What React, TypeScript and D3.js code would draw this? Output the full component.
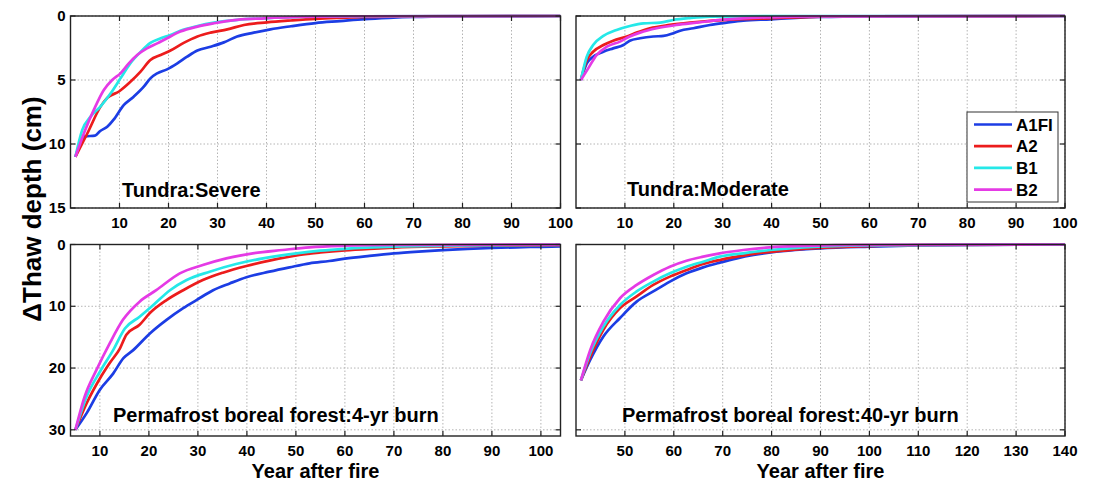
import React from 'react'
import * as d3 from 'd3'

type Pt = [number, number]

// series names and colours
const scenarios = ['A1FI', 'A2', 'B1', 'B2']
const colors = ['#1c3de4', '#ec1c1c', '#25e8e8', '#e53ae5']

// Tundra: Severe  [year after fire, delta thaw depth cm]
const severeA1FI: Pt[] = [[1, 11], [3, 9.4], [5, 9.35], [6, 9.0], [7.5, 8.65], [8.8, 8.1], [10.9, 6.95], [12.9, 6.3], [15, 5.5], [16.3, 4.87], [17.7, 4.48], [19.7, 4.17], [21.8, 3.7], [23.8, 3.18], [25.9, 2.7], [28.6, 2.4], [31.3, 2.06], [34, 1.6], [37.4, 1.3], [40.8, 1.04], [45, 0.8], [50, 0.55], [55, 0.4], [60, 0.25], [65, 0.15], [70, 0.08], [80, 0.03], [100, 0]]
const severeA2: Pt[] = [[1, 11], [3.4, 9.2], [6.1, 7.1], [7.5, 6.4], [9.9, 5.9], [11.9, 5.26], [14.3, 4.35], [16.3, 3.44], [18.4, 3.05], [20.4, 2.7], [23.1, 2.1], [25.9, 1.6], [28.6, 1.3], [32, 1.04], [35.4, 0.7], [40.1, 0.5], [45, 0.35], [50, 0.22], [55, 0.14], [60, 0.08], [70, 0.03], [100, 0]]
const severeB1: Pt[] = [[1, 11], [2.4, 8.9], [4.1, 7.86], [6.1, 7.08], [8.2, 6.04], [10.2, 4.87], [12.2, 3.7], [14.3, 2.8], [16.3, 2.1], [18.4, 1.74], [20.4, 1.48], [22.4, 1.15], [25.9, 0.78], [29.3, 0.52], [34, 0.3], [39.5, 0.18], [50, 0.06], [60, 0.02], [100, 0]]
const severeB2: Pt[] = [[1, 11], [3, 8.9], [4.8, 7.3], [6.8, 5.78], [8.5, 5.0], [10.2, 4.48], [11.9, 3.7], [13.6, 3.05], [15.6, 2.53], [17.7, 2.14], [19.7, 1.74], [22.4, 1.22], [25.9, 0.83], [29.3, 0.57], [34, 0.3], [39.5, 0.18], [50, 0.06], [60, 0.02], [100, 0]]

// Tundra: Moderate
const moderateA1FI: Pt[] = [[1, 5], [2.2, 3.7], [3.5, 3.18], [5.6, 2.79], [7.6, 2.53], [9.7, 2.27], [11, 1.93], [13.1, 1.74], [15.8, 1.6], [17.9, 1.56], [19.9, 1.35], [21.3, 1.15], [24, 0.96], [27.4, 0.7], [30.8, 0.52], [34.2, 0.36], [39.7, 0.26], [45, 0.15], [50, 0.08], [60, 0.03], [100, 0]]
const moderateA2: Pt[] = [[1, 5], [2.2, 3.44], [3.5, 2.79], [5.6, 2.27], [7.6, 1.93], [10.4, 1.6], [12.4, 1.3], [15.1, 0.96], [19.2, 0.7], [23.3, 0.52], [28.1, 0.36], [32.9, 0.26], [39.7, 0.18], [50, 0.06], [60, 0.02], [100, 0]]
const moderateB1: Pt[] = [[1, 5], [2.2, 3.18], [3.5, 2.27], [5.6, 1.56], [8.3, 1.09], [11, 0.78], [13.8, 0.57], [17.2, 0.52], [19.9, 0.31], [23.3, 0.16], [27.4, 0.05], [40, 0.01], [100, 0]]
const moderateB2: Pt[] = [[1, 5], [2.5, 4.09], [4.2, 3.05], [6.3, 2.4], [9, 2.0], [11, 1.6], [13.1, 1.3], [16.5, 0.96], [20.6, 0.7], [24.7, 0.52], [29.5, 0.31], [34.2, 0.18], [39.7, 0.1], [50, 0.03], [100, 0]]

// Permafrost boreal forest: 4-yr burn
const burn4A1FI: Pt[] = [[5, 30], [7.3, 27.3], [10, 23.5], [12.7, 20.9], [14.8, 18.4], [16.8, 17.1], [20.2, 14.4], [23.6, 12.2], [27, 10.3], [29.7, 9.0], [33.1, 7.4], [36.5, 6.3], [39.9, 5.3], [44.6, 4.4], [48.7, 3.7], [52.8, 3.05], [56.8, 2.67], [60, 2.3], [65, 1.85], [70, 1.45], [75, 1.15], [80, 0.9], [85, 0.72], [90, 0.57], [95, 0.45], [100, 0.37], [104, 0.3]]
const burn4A2: Pt[] = [[5, 30], [7.3, 25.7], [10, 21.7], [12, 19.2], [14.1, 16.8], [15.4, 14.6], [18.1, 13], [20.2, 11.1], [23.6, 9.0], [27, 7.4], [31, 5.75], [35.1, 4.56], [39.9, 3.48], [44.6, 2.62], [50.7, 1.7], [55, 1.3], [60, 0.95], [65, 0.7], [70, 0.5], [80, 0.3], [90, 0.2], [104, 0.12]]
const burn4B1: Pt[] = [[5, 30], [7.3, 24.6], [10, 20.6], [12.7, 17.1], [15.1, 13.6], [18.1, 11.7], [20.9, 9.8], [24.3, 7.4], [27.7, 5.75], [32.4, 4.4], [37.8, 3.16], [43.3, 2.24], [50.1, 1.43], [55, 1.0], [60, 0.7], [70, 0.35], [80, 0.2], [104, 0.05]]
const burn4B2: Pt[] = [[5, 30], [6.9, 24.6], [9.3, 20.3], [12, 16], [14.7, 12.2], [18.1, 9.25], [21.5, 7.4], [26.3, 4.67], [31, 3.32], [35.8, 2.24], [41.2, 1.43], [47.3, 0.89], [52.8, 0.45], [60, 0.2], [70, 0.08], [104, 0.02]]

// Permafrost boreal forest: 40-yr burn
const burn40A1FI: Pt[] = [[41, 22], [42.9, 18.7], [45.6, 14.9], [49, 11.9], [52.4, 9.25], [55.8, 7.6], [59.2, 6.0], [62.6, 4.67], [66, 3.7], [69.4, 2.94], [72.9, 2.24], [76.3, 1.7], [81, 1.16], [86.5, 0.78], [90, 0.62], [100, 0.35], [110, 0.15], [120, 0.05], [140, 0]]
const burn40A2: Pt[] = [[41, 22], [42.9, 18.2], [45.6, 13.8], [49, 10.3], [52.4, 8.4], [55.8, 6.55], [59.2, 5.2], [62.6, 4.13], [66, 3.16], [69.4, 2.5], [72.9, 1.97], [76.9, 1.43], [82.4, 1.0], [87.9, 0.62], [100, 0.25], [110, 0.1], [140, 0]]
const burn40B1: Pt[] = [[41, 22], [42.9, 17.6], [45.6, 13.3], [49, 9.8], [52.4, 7.6], [55.8, 6.0], [59.2, 4.67], [62.6, 3.59], [66, 2.78], [69.4, 1.97], [74.2, 1.43], [79.7, 0.89], [86.5, 0.46], [100, 0.15], [140, 0]]
const burn40B2: Pt[] = [[41, 22], [42.9, 17.1], [45.6, 12.5], [49, 8.7], [52.4, 6.55], [55.8, 4.94], [59.2, 3.59], [62.6, 2.62], [66, 1.97], [69.4, 1.43], [74.2, 0.89], [79.7, 0.46], [86.5, 0.24], [100, 0.06], [140, 0]]

const panels = [
  { title: 'Tundra:Severe', series: [severeA1FI, severeA2, severeB1, severeB2], xDomain: [0, 100], yDomain: [0, 15], xTicks: [10, 20, 30, 40, 50, 60, 70, 80, 90, 100], yTicks: [0, 5, 10, 15], box: [70.5, 16, 560.5, 208], yLabels: true, xTitle: false, legend: false, titleX: 122, titleY: 197 },
  { title: 'Tundra:Moderate', series: [moderateA1FI, moderateA2, moderateB1, moderateB2], xDomain: [0, 100], yDomain: [0, 15], xTicks: [10, 20, 30, 40, 50, 60, 70, 80, 90, 100], yTicks: [0, 5, 10, 15], box: [576, 16, 1065, 208], yLabels: false, xTitle: false, legend: true, titleX: 627, titleY: 196 },
  { title: 'Permafrost boreal forest:4-yr burn', series: [burn4A1FI, burn4A2, burn4B1, burn4B2], xDomain: [4, 104], yDomain: [0, 31], xTicks: [10, 20, 30, 40, 50, 60, 70, 80, 90, 100], yTicks: [0, 10, 20, 30], box: [70.5, 244.5, 560.5, 436], yLabels: true, xTitle: true, legend: false, titleX: 113, titleY: 422 },
  { title: 'Permafrost boreal forest:40-yr burn', series: [burn40A1FI, burn40A2, burn40B1, burn40B2], xDomain: [40, 140], yDomain: [0, 31], xTicks: [50, 60, 70, 80, 90, 100, 110, 120, 130, 140], yTicks: [0, 10, 20, 30], box: [576, 244.5, 1065, 436], yLabels: false, xTitle: true, legend: false, titleX: 622, titleY: 422 },
]

const font = '"Liberation Sans", Arial, sans-serif'

const Panel = ({ p, idx }: { p: typeof panels[number], idx: number }) => {
  const [x0, y0, x1, y1] = p.box
  const x = d3.scaleLinear().domain(p.xDomain).range([x0, x1])
  const y = d3.scaleLinear().domain(p.yDomain).range([y0, y1])
  const line = d3.line<Pt>().x(d => x(d[0])).y(d => y(d[1])).curve(d3.curveMonotoneX)
  const tl = 5
  return (
    <g>
      <defs>
        <clipPath id={`clip${idx}`}>
          <rect x={x0} y={y0 - 2} width={x1 - x0} height={y1 - y0 + 2} />
        </clipPath>
      </defs>
      {p.xTicks.map(t => (
        <line key={'gx' + t} x1={x(t)} x2={x(t)} y1={y0} y2={y1} stroke="#b4b4b4" strokeWidth={1} strokeDasharray="1.5,2" />
      ))}
      {p.yTicks.map(t => (
        <line key={'gy' + t} x1={x0} x2={x1} y1={y(t)} y2={y(t)} stroke="#b4b4b4" strokeWidth={1} strokeDasharray="1.5,2" />
      ))}
      <g clipPath={`url(#clip${idx})`}>
        {p.series.map((s, i) => (
          <path key={i} d={line(s) || ''} fill="none" stroke={colors[i]} strokeWidth={2.7} strokeLinejoin="round" />
        ))}
      </g>
      <rect x={x0} y={y0} width={x1 - x0} height={y1 - y0} fill="none" stroke="#222" strokeWidth={1.4} />
      {p.xTicks.map(t => (
        <g key={'tx' + t}>
          <line x1={x(t)} x2={x(t)} y1={y1} y2={y1 - tl} stroke="#222" strokeWidth={1.2} />
          <line x1={x(t)} x2={x(t)} y1={y0} y2={y0 + tl} stroke="#222" strokeWidth={1.2} />
          <text x={x(t)} y={y1 + 20} textAnchor="middle" fontSize={15} fontWeight="bold" fontFamily={font}>{t}</text>
        </g>
      ))}
      {p.yTicks.map(t => (
        <g key={'ty' + t}>
          <line x1={x0} x2={x0 + tl} y1={y(t)} y2={y(t)} stroke="#222" strokeWidth={1.2} />
          <line x1={x1} x2={x1 - tl} y1={y(t)} y2={y(t)} stroke="#222" strokeWidth={1.2} />
          {p.yLabels && (
            <text x={x0 - 5} y={y(t) + 5} textAnchor="end" fontSize={15} fontWeight="bold" fontFamily={font}>{t}</text>
          )}
        </g>
      ))}
      <text x={p.titleX} y={p.titleY} fontSize={20} fontWeight="bold" fontFamily={font}>{p.title}</text>
      {p.xTitle && (
        <text x={(x0 + x1) / 2} y={478} textAnchor="middle" fontSize={20} fontWeight="bold" fontFamily={font}>Year after fire</text>
      )}
      {p.legend && (
        <g>
          <rect x={967} y={112} width={91} height={90} fill="white" stroke="#333" strokeWidth={1} />
          {scenarios.map((s, i) => (
            <g key={s}>
              <line x1={974} x2={1012} y1={124.5 + i * 21.7} y2={124.5 + i * 21.7} stroke={colors[i]} strokeWidth={2.7} />
              <text x={1016} y={124.5 + i * 21.7 + 6} fontSize={17} fontWeight="bold" fontFamily={font}>{s}</text>
            </g>
          ))}
        </g>
      )}
    </g>
  )
}

export default function App() {
  return (
    <svg width={1093} height={482} style={{ position: 'absolute', left: 0, top: 0, background: 'white' }}>
      {panels.map((p, i) => <Panel key={i} p={p} idx={i} />)}
      <text transform="translate(41,209) rotate(-90)" textAnchor="middle" fontSize={26} fontWeight="bold" fontFamily={font}>ΔThaw depth (cm)</text>
    </svg>
  )
}
